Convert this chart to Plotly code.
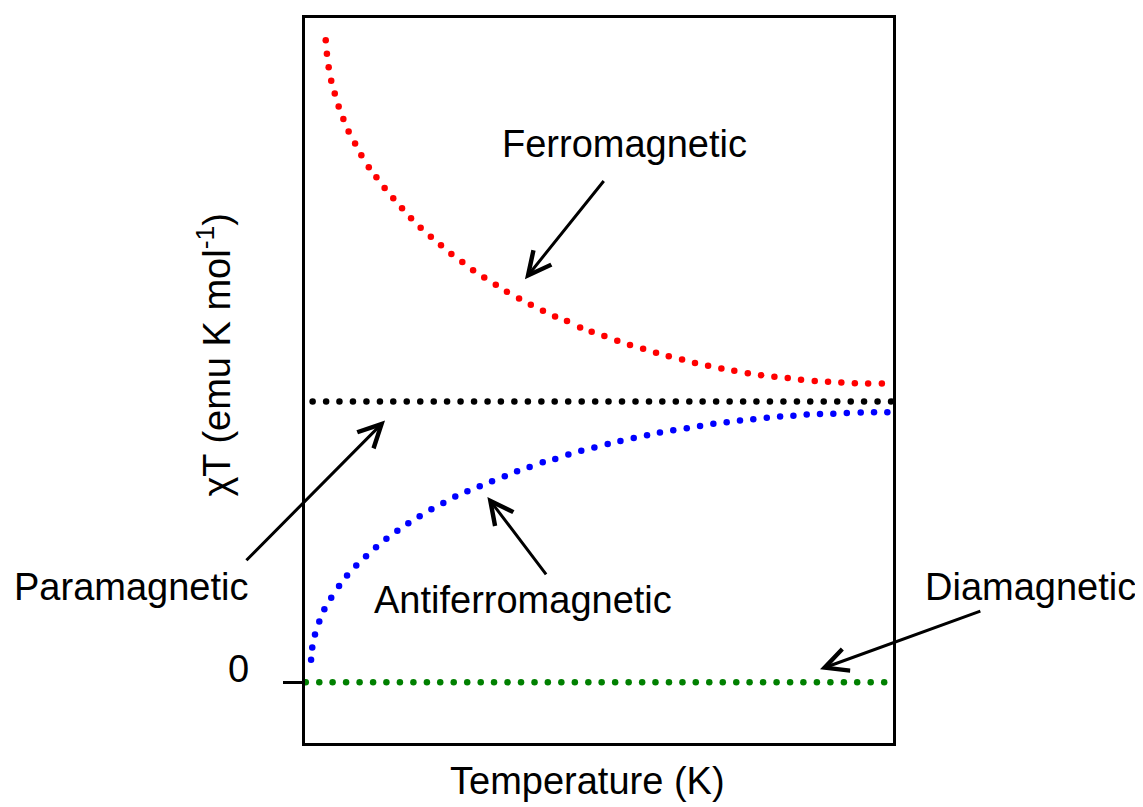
import plotly.graph_objects as go

# ---- data (arbitrary units) ----
T_ferro = [10.6, 11.2, 12.1, 13.4, 15.2, 17.2, 19.6, 22.3, 25.6, 28.8, 32.6, 36.5, 40.7, 45.1,
           49.6, 54.2, 59.1, 64.3, 69.5, 74.8, 80.4, 85.9, 91.6, 97.5, 103.2, 109.4, 115.4,
           121.6, 127.8, 133.9, 140.6, 146.5, 153.0, 159.6, 166.1, 172.8, 179.4, 185.9, 192.7,
           199.3, 206.0, 212.8, 219.4, 226.3, 233.1, 239.9, 246.7, 253.5, 260.5, 267.3, 274.1,
           281.0, 287.8, 294.8]
chiT_ferro = [2.286, 2.238, 2.190, 2.142, 2.096, 2.050, 2.005, 1.961, 1.918, 1.876, 1.834, 1.798,
              1.760, 1.723, 1.688, 1.652, 1.618, 1.586, 1.556, 1.525, 1.496, 1.467, 1.441, 1.415,
              1.390, 1.366, 1.344, 1.323, 1.302, 1.286, 1.263, 1.248, 1.233, 1.216, 1.201, 1.187,
              1.173, 1.161, 1.149, 1.137, 1.127, 1.117, 1.109, 1.100, 1.093, 1.088, 1.083, 1.077,
              1.073, 1.070, 1.067, 1.065, 1.064, 1.064]

T_antiferro = [3.1, 3.7, 5.1, 7.3, 9.9, 13.4, 17.4, 21.5, 26.2, 31.2, 36.3, 41.6, 47.2, 52.8,
               58.6, 64.6, 70.7, 76.8, 83.0, 89.3, 95.6, 102.1, 108.4, 114.8, 121.5, 127.9,
               134.6, 141.2, 147.9, 154.7, 161.2, 168.0, 174.8, 181.4, 188.2, 195.1, 201.9,
               208.7, 215.5, 222.3, 229.1, 236.0, 242.8, 249.6, 256.4, 263.2, 270.0, 276.9,
               284.0, 290.8, 297.6]
chiT_antiferro = [0.080, 0.124, 0.170, 0.216, 0.260, 0.301, 0.343, 0.380, 0.416, 0.449, 0.481,
                  0.511, 0.539, 0.566, 0.591, 0.616, 0.638, 0.661, 0.680, 0.698, 0.716, 0.733,
                  0.751, 0.766, 0.783, 0.795, 0.811, 0.824, 0.836, 0.848, 0.859, 0.870, 0.879,
                  0.889, 0.897, 0.904, 0.912, 0.920, 0.926, 0.932, 0.936, 0.942, 0.946, 0.949,
                  0.953, 0.955, 0.956, 0.959, 0.960, 0.961, 0.961]

T_para = [3.9, 10.8, 17.6, 24.5, 31.4, 38.3, 45.1, 52.0, 58.9, 65.8, 72.6, 79.5, 86.4, 93.3,
          100.1, 107.0, 113.9, 120.8, 127.6, 134.5, 141.4, 148.3, 155.1, 162.0, 168.9, 175.8,
          182.6, 189.5, 196.4, 203.2, 210.1, 217.0, 223.9, 230.7, 237.6, 244.5, 251.4, 258.2,
          265.1, 272.0, 278.9, 285.7, 292.6, 299.5]
chiT_para = [1.0] * len(T_para)

T_dia = [0.4, 7.3, 14.1, 21.0, 27.9, 34.8, 41.6, 48.5, 55.4, 62.3, 69.1, 76.0, 82.9, 89.8,
         96.6, 103.5, 110.4, 117.3, 124.1, 131.0, 137.9, 144.8, 151.6, 158.5, 165.4, 172.3,
         179.1, 186.0, 192.9, 199.7, 206.6, 213.5, 220.4, 227.2, 234.1, 241.0, 247.9, 254.7,
         261.6, 268.5, 275.4, 282.2, 289.1, 296.0]
chiT_dia = [0.0] * len(T_dia)

y_ticks = [0]
y_tick_text = ["0"]

FONT = "Liberation Sans, Arial, sans-serif"
FS = 38

fig = go.Figure()
for xs, ys, col, name in [
    (T_ferro, chiT_ferro, "#ff0000", "Ferromagnetic"),
    (T_para, chiT_para, "#000000", "Paramagnetic"),
    (T_antiferro, chiT_antiferro, "#0000ff", "Antiferromagnetic"),
    (T_dia, chiT_dia, "#008000", "Diamagnetic"),
]:
    fig.add_trace(go.Scatter(x=xs, y=ys, mode="markers", name=name,
                             marker=dict(color=col, size=6.5, line=dict(width=0)),
                             showlegend=False, cliponaxis=True))

arrow = dict(showarrow=True, arrowhead=5, arrowsize=1.5, arrowwidth=3, arrowcolor="black",
             xref="x", yref="y", axref="x", ayref="y", text="")
# (tip x, tip y, tail x, tail y)
arrows = [
    (112.4, 1.435, 153.3, 1.790),
    (40.9, 0.932, -30.7, 0.429),
    (93.2, 0.660, 123.8, 0.379),
    (263.2, 0.046, 345.9, 0.255),
]
annotations = []
for tx, ty, ax_, ay_ in arrows:
    a = dict(arrow)
    a.update(x=tx, y=ty, ax=ax_, ay=ay_)
    annotations.append(a)

# label positions given in window pixels, converted to paper coordinates
W0, PW, T0, PH = 305, 588, 15, 728
def px(xp):
    return (xp - W0) / PW
def py(yp):
    return (T0 + PH - yp) / PH

labels = [
    ("Ferromagnetic", 624, 142),
    ("Paramagnetic", 131, 586),
    ("Antiferromagnetic", 523, 599),
    ("Diamagnetic", 1030, 586),
    ("Temperature (K)", 587, 781),
    (y_tick_text[0], 238, 669),
]
for txt, xp, yp in labels:
    annotations.append(dict(text=txt, x=px(xp), y=py(yp), xref="paper", yref="paper",
                            xanchor="center", yanchor="middle", showarrow=False,
                            font=dict(family=FONT, size=FS, color="black")))

annotations.append(dict(text="χT (emu K mol<sup>-1</sup>)", x=px(214), y=py(353),
                        xref="paper", yref="paper", xanchor="center", yanchor="middle",
                        textangle=-90, showarrow=False,
                        font=dict(family=FONT, size=FS, color="black")))

# page body has an 8px margin, so the figure is 8px smaller and margins shifted by 8px
fig.update_layout(
    width=1135, height=799,
    margin=dict(l=297, r=250, t=7, b=64),
    paper_bgcolor="white", plot_bgcolor="white",
    annotations=annotations,
    xaxis=dict(range=[0, 300.5], showgrid=False, zeroline=False, showticklabels=False,
               ticks="", showline=True, linewidth=3, linecolor="black", mirror=True),
    yaxis=dict(range=[-0.2163, 2.365], showgrid=False, zeroline=False, showticklabels=False,
               tickvals=y_ticks, ticks="outside", ticklen=19, tickwidth=3, tickcolor="black",
               showline=True, linewidth=3, linecolor="black", mirror=True),
)

fig.write_html("out.html")
